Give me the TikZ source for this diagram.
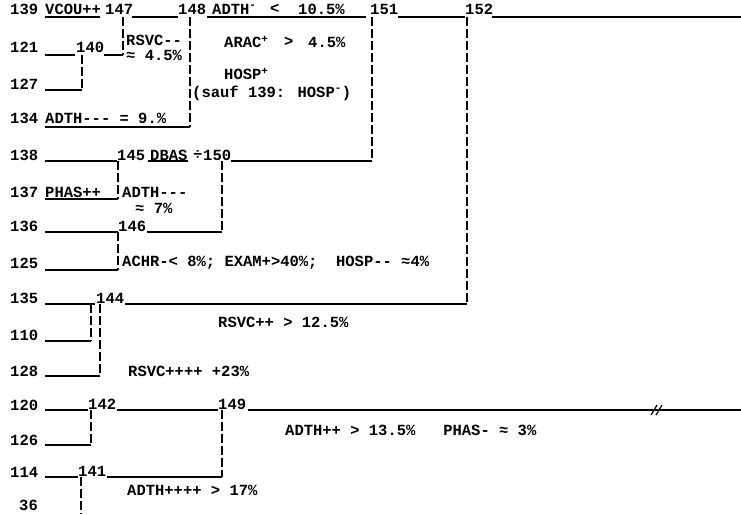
\documentclass[tikz,border=0pt]{standalone}
\usepackage{fontspec}
\setmainfont{Liberation Mono}
\newfontfamily\tw{Liberation Mono}
\begin{document}
\begin{tikzpicture}[x=1pt,y=-1pt,
  lbl/.style={anchor=west,inner sep=0pt,font=\tw\bfseries\fontsize{15.5}{17}\selectfont},
  hl/.style={line width=1.2pt},
  vl/.style={line width=1.2pt,dash pattern=on 9pt off 3pt}]
\path[use as bounding box,fill=white] (0,0) rectangle (741,514);
% row numbers
\node[lbl] (r139) at (10,9) {139};
\node[lbl] (r121) at (10,47) {121};
\node[lbl] (r127) at (10,84) {127};
\node[lbl] (r134) at (10,118) {134};
\node[lbl] (r138) at (10,155) {138};
\node[lbl] (r137) at (10,192) {137};
\node[lbl] (r136) at (10,226) {136};
\node[lbl] (r125) at (10,263) {125};
\node[lbl] (r135) at (10,298) {135};
\node[lbl] (r110) at (10,335) {110};
\node[lbl] (r128) at (10,371) {128};
\node[lbl] (r120) at (10,405) {120};
\node[lbl] (r126) at (10,440) {126};
\node[lbl] (r114) at (10,472) {114};
\node[lbl] (r36) at (19,505) {36};
% row 139
\node[lbl] (vcou) at (45,9) {VCOU++};
\draw[hl] (45,17) -- (100,17);
\node[lbl] (c147) at (105,9) {147};
\draw[hl] (132,17) -- (178,17);
\node[lbl] (c148) at (178,9) {148};
\node[lbl] (adth1) at (212,9) {ADTH\textsuperscript{-}};
\node[lbl] (lt1) at (270,9) {<};
\node[lbl] (v1) at (298,9) {10.5\%};
\draw[hl] (207,17) -- (366,17);
\node[lbl] (c151) at (370,9) {151};
\draw[hl] (398,17) -- (465,17);
\node[lbl] (c152) at (465,9) {152};
\draw[hl] (492,17) -- (741,17);
% verticals upper block
\draw[vl] (123,17) -- (123,55);
\draw[vl] (82,55) -- (82,90);
\draw[vl] (190,17) -- (190,127);
\draw[vl] (372,17) -- (372,161);
\draw[vl] (467,17) -- (467,304);
% row 121 / 127
\draw[hl] (45,55) -- (75,55);
\node[lbl] (c140) at (76,47) {140};
\draw[hl] (104,55) -- (123,55);
\draw[hl] (45,90) -- (82,90);
\node[lbl] (rsvc1) at (126,40) {RSVC--};
\node[lbl] (rsvc1b) at (126,55) {≈ 4.5\%};
\node[lbl] (arac) at (224,42) {ARAC\textsuperscript{+}};
\node[lbl] (gt1) at (284,42) {>};
\node[lbl] (v2) at (308,42) {4.5\%};
\node[lbl] (hosp) at (224,74) {HOSP\textsuperscript{+}};
\node[lbl] (sauf) at (192,93) {(sauf 139: HOSP\textsuperscript{-})};
% row 134
\node[lbl] (adth2) at (45,118) {ADTH--- = 9.\%};
\draw[hl] (45,127) -- (190,127);
% rows 138-125
\draw[hl] (45,161) -- (117,161);
\node[lbl] (c145) at (117,155) {145};
\node[lbl] (dbas) at (150,155) {DBAS};
\draw[hl] (148,161) -- (188,161);
\node[lbl] (div) at (193,155) {÷};
\node[lbl] (c150) at (203,155) {150};
\draw[hl] (231,161) -- (372,161);
\draw[vl] (118,161) -- (118,199);
\draw[vl] (222,161) -- (222,232);
\draw[vl] (118,232) -- (118,270);
\node[lbl] (phas) at (45,192) {PHAS++};
\draw[hl] (45,199) -- (118,199);
\node[lbl] (adth3) at (122,192) {ADTH---};
\node[lbl] (adth3b) at (135,208) {≈  7\%};
\draw[hl] (45,232) -- (118,232);
\node[lbl] (c146) at (118,226) {146};
\draw[hl] (147,232) -- (222,232);
\draw[hl] (45,270) -- (118,270);
\node[lbl] (achr) at (122,263) {ACHR-< 8\%;~EXAM+>40\%;~~HOSP--~≈4\%};
% rows 135-128
\draw[hl] (45,304) -- (95,304);
\node[lbl] (c144) at (96,298) {144};
\draw[hl] (125,304) -- (467,304);
\draw[vl] (91,304) -- (91,341);
\draw[vl] (100,304) -- (100,376);
\draw[hl] (45,341) -- (91,341);
\draw[hl] (45,376) -- (100,376);
\node[lbl] (rsvc2) at (218,322) {RSVC++ > 12.5\%};
\node[lbl] (rsvc3) at (128,371) {RSVC++++ +23\%};
% rows 120-36
\draw[hl] (45,410) -- (88,410);
\node[lbl] (c142) at (88,404) {142};
\draw[hl] (117,410) -- (218,410);
\node[lbl] (c149) at (218,404) {149};
\draw[hl] (248,410) -- (741,410);
\draw[line width=1.2pt] (651,415) -- (657,405) (656,415) -- (662,405);
\draw[vl] (91,410) -- (91,445);
\draw[vl] (222,410) -- (222,477);
\draw[hl] (45,445) -- (91,445);
\draw[hl] (45,477) -- (78,477);
\node[lbl] (c141) at (78,471) {141};
\draw[hl] (107,477) -- (222,477);
\draw[vl] (81,477) -- (81,514);
\node[lbl] (adth4) at (127,490) {ADTH++++ > 17\%};
\node[lbl] (adth5) at (285,430) {ADTH++ > 13.5\%~~~PHAS- ≈ 3\%};
\end{tikzpicture}
\end{document}
